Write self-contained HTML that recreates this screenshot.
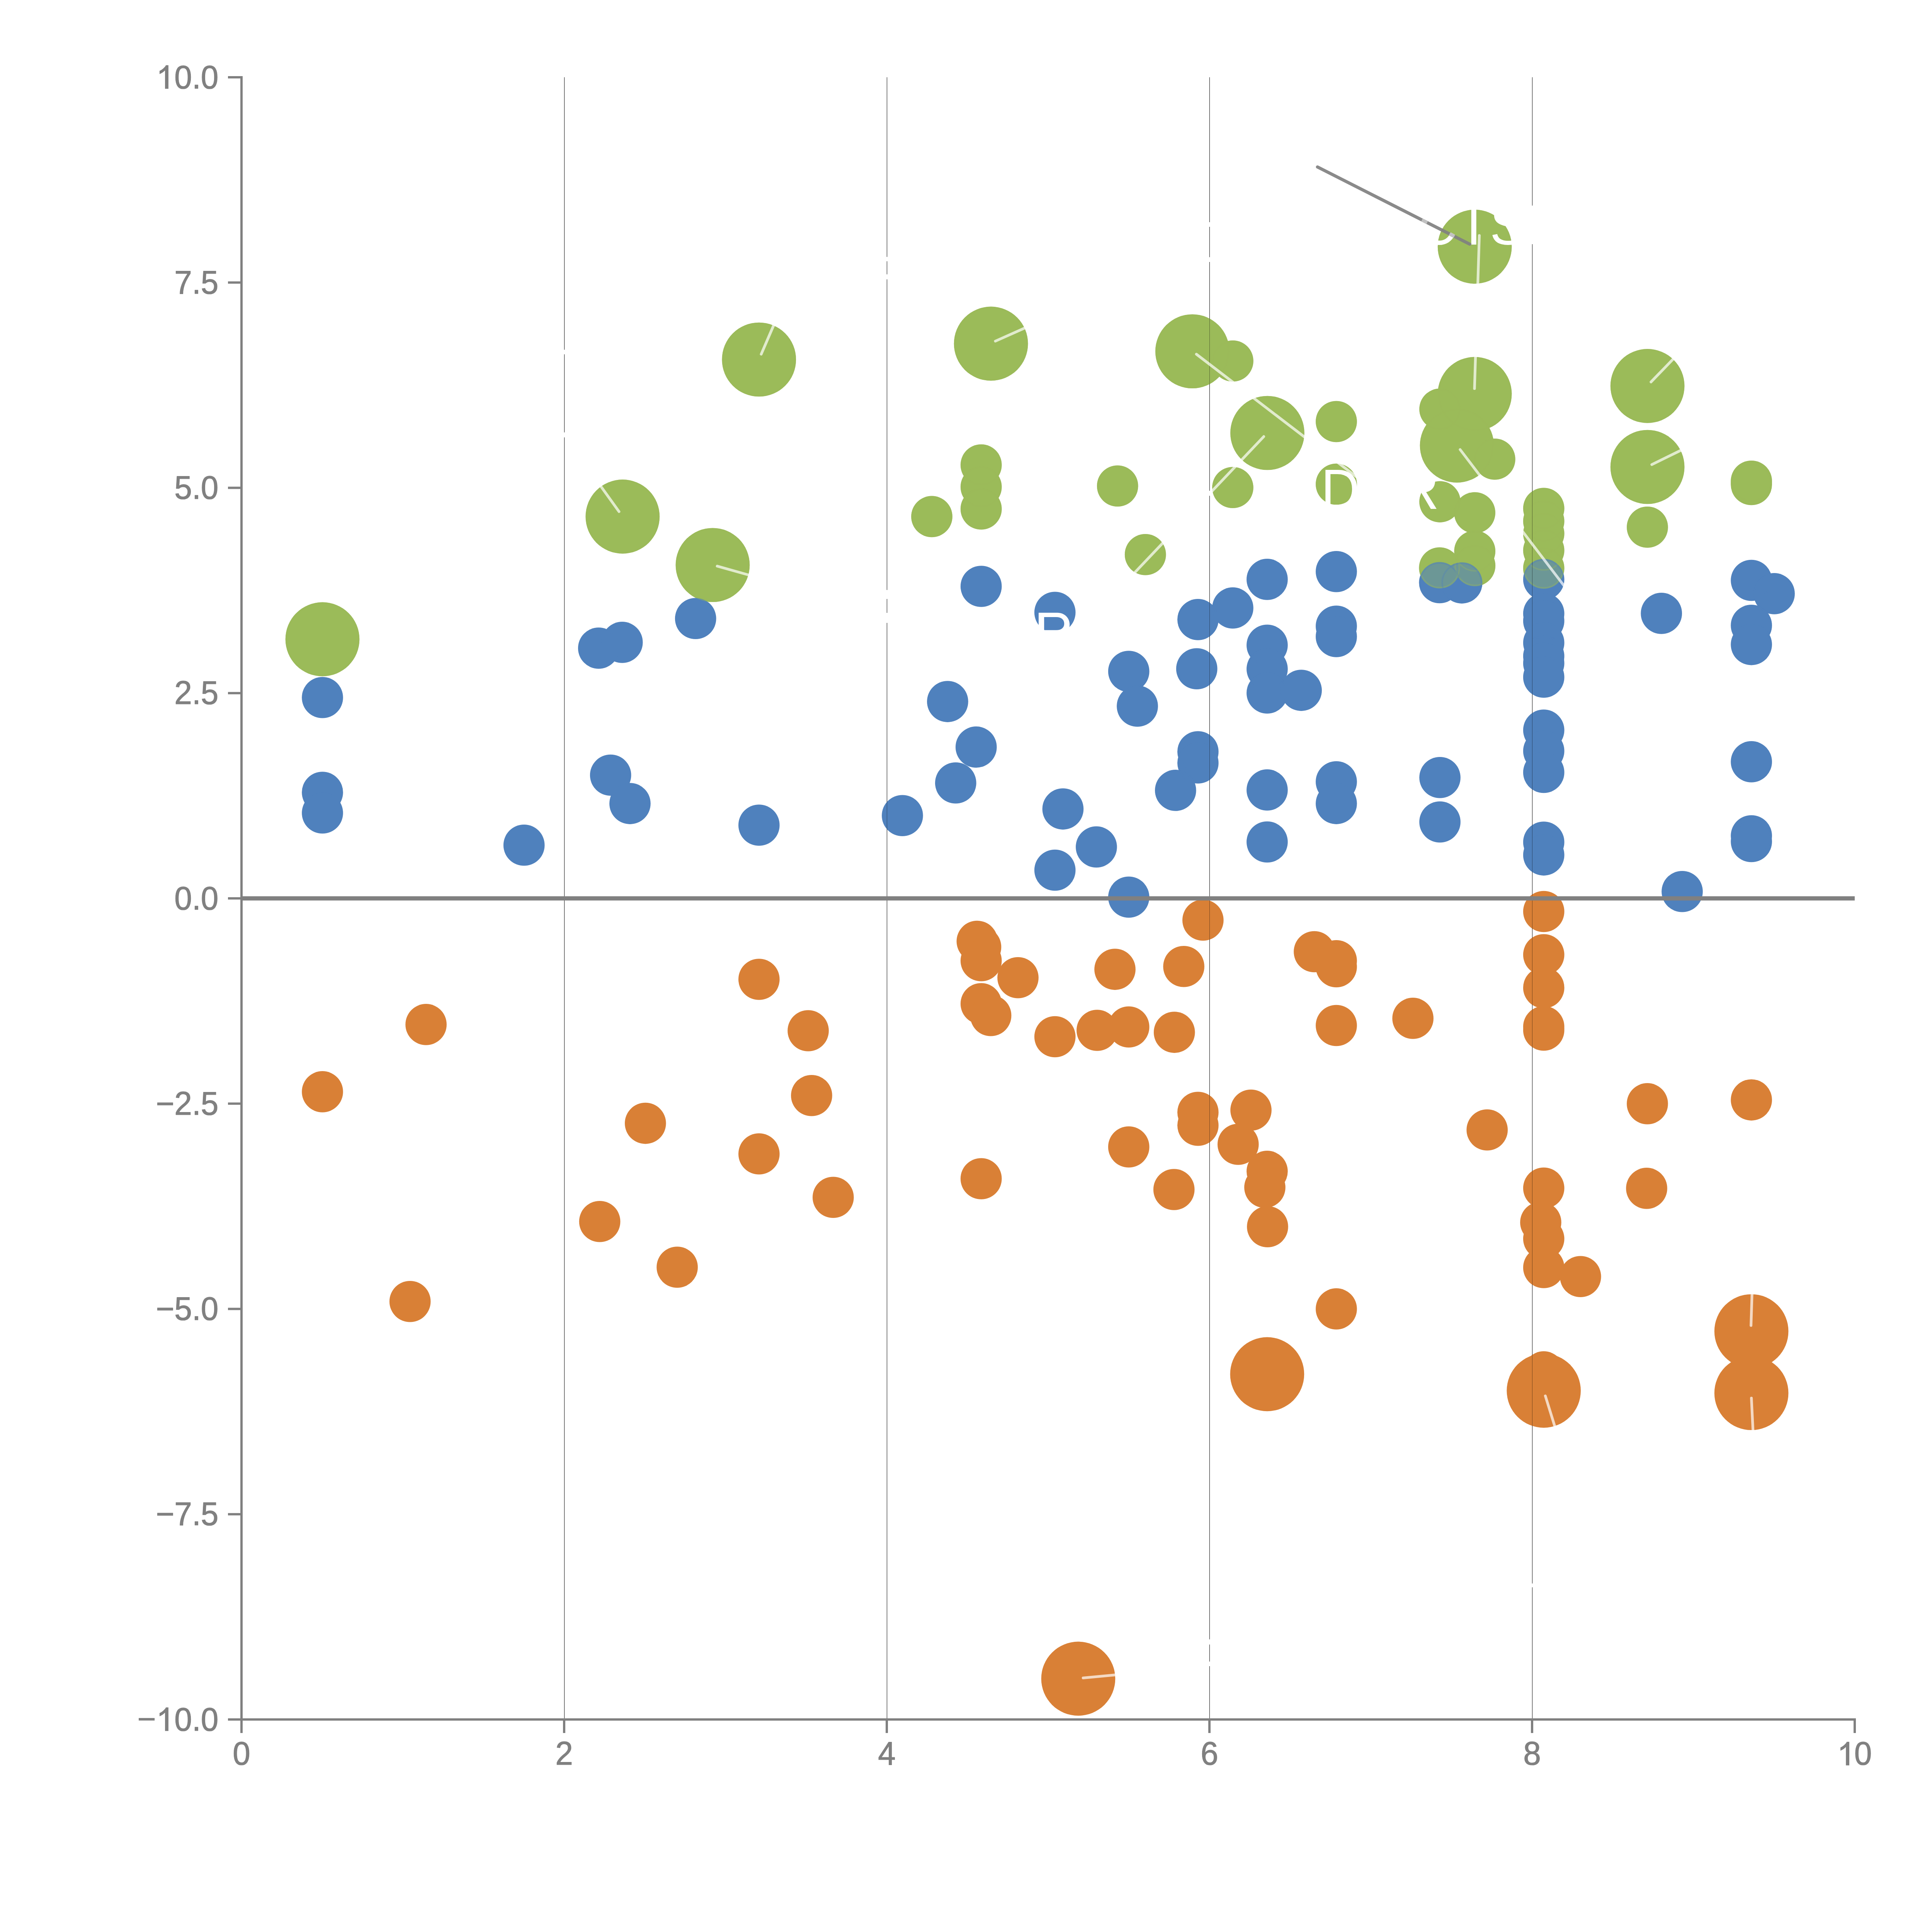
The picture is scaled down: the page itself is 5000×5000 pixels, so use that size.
<!DOCTYPE html><html><head><meta charset="utf-8"><style>html,body{margin:0;padding:0;background:#fff}svg{display:block}text{font-family:"Liberation Sans",sans-serif;font-size:82px;fill:#808080}.tk{stroke:#808080;stroke-width:1.2px;stroke-linejoin:round}</style></head><body>
<svg width="5000" height="5000" viewBox="0 0 5000 5000">
<rect width="5000" height="5000" fill="#ffffff"/>
<rect x="1460" y="200" width="1" height="4250" fill="#000"/>
<rect x="2295" y="200" width="1" height="4250" fill="#000"/>
<rect x="3130" y="200" width="1" height="4250" fill="#000"/>
<rect x="3965" y="200" width="1" height="4250" fill="#000"/>
<g><circle cx="834.5" cy="1654.4" r="95.8" fill="#9bbb59"/><circle cx="1611.3" cy="1336.9" r="95.8" fill="#9bbb59"/><circle cx="1844.4" cy="1462.3" r="95.8" fill="#9bbb59"/><circle cx="1964.3" cy="930.5" r="95.8" fill="#9bbb59"/><circle cx="2564.6" cy="889.4" r="95.8" fill="#9bbb59"/><circle cx="3085.8" cy="909.3" r="95.8" fill="#9bbb59"/><circle cx="3279.9" cy="1120.5" r="95.8" fill="#9bbb59"/><circle cx="3816.6" cy="638.4" r="95.8" fill="#9bbb59"/><circle cx="3816.6" cy="1019.6" r="95.8" fill="#9bbb59"/><circle cx="3770.5" cy="1153.1" r="95.8" fill="#9bbb59"/><circle cx="4263.6" cy="998.9" r="95.8" fill="#9bbb59"/><circle cx="4263.6" cy="1208.5" r="95.8" fill="#9bbb59"/><circle cx="2411.5" cy="1336.9" r="53.3" fill="#9bbb59"/><circle cx="2539.2" cy="1203.3" r="53.3" fill="#9bbb59"/><circle cx="2539.2" cy="1260.2" r="53.3" fill="#9bbb59"/><circle cx="2539.2" cy="1317.2" r="53.3" fill="#9bbb59"/><circle cx="2892.2" cy="1257.7" r="53.3" fill="#9bbb59"/><circle cx="2964.2" cy="1435.2" r="53.3" fill="#9bbb59"/><circle cx="3190.4" cy="934.2" r="53.3" fill="#9bbb59"/><circle cx="3190.4" cy="1261.8" r="53.3" fill="#9bbb59"/><circle cx="3458.4" cy="1091.0" r="53.3" fill="#9bbb59"/><circle cx="3458.4" cy="1253.0" r="53.3" fill="#9bbb59"/><circle cx="3726.5" cy="1058.9" r="53.3" fill="#9bbb59"/><circle cx="3868.3" cy="1188.3" r="53.3" fill="#9bbb59"/><circle cx="3726.5" cy="1298.6" r="53.3" fill="#9bbb59"/><circle cx="3816.6" cy="1327.0" r="53.3" fill="#9bbb59"/><circle cx="3816.7" cy="1426.5" r="53.3" fill="#9bbb59"/><circle cx="3816.8" cy="1463.9" r="53.3" fill="#9bbb59"/><circle cx="3725.7" cy="1469.7" r="53.3" fill="#9bbb59"/><circle cx="3995.2" cy="1315.8" r="53.3" fill="#9bbb59"/><circle cx="3995.2" cy="1348.7" r="53.3" fill="#9bbb59"/><circle cx="3995.2" cy="1381.0" r="53.3" fill="#9bbb59"/><circle cx="3995.2" cy="1424.3" r="53.3" fill="#9bbb59"/><circle cx="3995.2" cy="1470.5" r="53.3" fill="#9bbb59"/><circle cx="4263.4" cy="1364.3" r="53.3" fill="#9bbb59"/><circle cx="4532.6" cy="1245.2" r="53.3" fill="#9bbb59"/><circle cx="4532.6" cy="1254.0" r="53.3" fill="#9bbb59"/></g>
<g><circle cx="834.5" cy="1805.3" r="53.3" fill="#4f81bd"/><circle cx="834.5" cy="2050.6" r="53.3" fill="#4f81bd"/><circle cx="834.5" cy="2104.0" r="53.3" fill="#4f81bd"/><circle cx="1356.2" cy="2187.3" r="53.3" fill="#4f81bd"/><circle cx="1549.3" cy="1677.4" r="53.3" fill="#4f81bd"/><circle cx="1610.2" cy="1662.4" r="53.3" fill="#4f81bd"/><circle cx="1580.2" cy="2006.1" r="53.3" fill="#4f81bd"/><circle cx="1630.4" cy="2079.6" r="53.3" fill="#4f81bd"/><circle cx="1800.2" cy="1600.8" r="53.3" fill="#4f81bd"/><circle cx="1964.3" cy="2135.5" r="53.3" fill="#4f81bd"/><circle cx="2335.4" cy="2110.7" r="53.3" fill="#4f81bd"/><circle cx="2452.4" cy="1815.6" r="53.3" fill="#4f81bd"/><circle cx="2473.3" cy="2026.3" r="53.3" fill="#4f81bd"/><circle cx="2526.3" cy="1933.4" r="53.3" fill="#4f81bd"/><circle cx="2539.2" cy="1517.5" r="53.3" fill="#4f81bd"/><circle cx="2730.2" cy="1584.8" r="53.3" fill="#4f81bd"/><circle cx="2750.9" cy="2093.6" r="53.3" fill="#4f81bd"/><circle cx="2837.4" cy="2191.9" r="53.3" fill="#4f81bd"/><circle cx="2730.2" cy="2252.0" r="53.3" fill="#4f81bd"/><circle cx="2921.2" cy="2321.8" r="53.3" fill="#4f81bd"/><circle cx="2921.2" cy="1737.5" r="53.3" fill="#4f81bd"/><circle cx="2943.5" cy="1827.5" r="53.3" fill="#4f81bd"/><circle cx="3100.3" cy="1603.4" r="53.3" fill="#4f81bd"/><circle cx="3190.4" cy="1573.4" r="53.3" fill="#4f81bd"/><circle cx="3097.2" cy="1730.7" r="53.3" fill="#4f81bd"/><circle cx="3100.3" cy="1945.5" r="53.3" fill="#4f81bd"/><circle cx="3100.3" cy="1974.5" r="53.3" fill="#4f81bd"/><circle cx="3042.3" cy="2045.4" r="53.3" fill="#4f81bd"/><circle cx="3279.4" cy="1499.4" r="53.3" fill="#4f81bd"/><circle cx="3279.4" cy="1669.7" r="53.3" fill="#4f81bd"/><circle cx="3279.4" cy="1731.3" r="53.3" fill="#4f81bd"/><circle cx="3279.4" cy="1793.4" r="53.3" fill="#4f81bd"/><circle cx="3367.6" cy="1786.6" r="53.3" fill="#4f81bd"/><circle cx="3279.4" cy="2044.4" r="53.3" fill="#4f81bd"/><circle cx="3279.4" cy="2179.0" r="53.3" fill="#4f81bd"/><circle cx="3458.4" cy="1479.2" r="53.3" fill="#4f81bd"/><circle cx="3458.4" cy="1620.5" r="53.3" fill="#4f81bd"/><circle cx="3458.4" cy="1647.4" r="53.3" fill="#4f81bd"/><circle cx="3458.4" cy="2023.2" r="53.3" fill="#4f81bd"/><circle cx="3458.4" cy="2079.6" r="53.3" fill="#4f81bd"/><circle cx="3725.7" cy="1507.9" r="53.3" fill="#4f81bd"/><circle cx="3783.2" cy="1508.6" r="53.3" fill="#4f81bd"/><circle cx="3726.5" cy="2012.3" r="53.3" fill="#4f81bd"/><circle cx="3726.5" cy="2127.2" r="53.3" fill="#4f81bd"/><circle cx="3995.2" cy="1499.6" r="53.3" fill="#4f81bd"/><circle cx="3995.2" cy="1588.0" r="53.3" fill="#4f81bd"/><circle cx="3995.2" cy="1607.0" r="53.3" fill="#4f81bd"/><circle cx="3995.2" cy="1663.5" r="53.3" fill="#4f81bd"/><circle cx="3995.2" cy="1698.0" r="53.3" fill="#4f81bd"/><circle cx="3995.2" cy="1716.5" r="53.3" fill="#4f81bd"/><circle cx="3995.2" cy="1752.4" r="53.3" fill="#4f81bd"/><circle cx="3995.2" cy="1889.6" r="53.3" fill="#4f81bd"/><circle cx="3995.2" cy="1943.5" r="53.3" fill="#4f81bd"/><circle cx="3995.2" cy="1998.9" r="53.3" fill="#4f81bd"/><circle cx="3995.2" cy="2179.5" r="53.3" fill="#4f81bd"/><circle cx="3995.2" cy="2212.6" r="53.3" fill="#4f81bd"/><circle cx="4299.7" cy="1587.4" r="53.3" fill="#4f81bd"/><circle cx="4532.6" cy="1502.0" r="53.3" fill="#4f81bd"/><circle cx="4591.6" cy="1536.4" r="53.3" fill="#4f81bd"/><circle cx="4532.6" cy="1618.4" r="53.3" fill="#4f81bd"/><circle cx="4532.6" cy="1668.1" r="53.3" fill="#4f81bd"/><circle cx="4532.6" cy="1971.4" r="53.3" fill="#4f81bd"/><circle cx="4532.6" cy="2163.0" r="53.3" fill="#4f81bd"/><circle cx="4532.6" cy="2178.0" r="53.3" fill="#4f81bd"/><circle cx="4353.5" cy="2307.3" r="53.3" fill="#4f81bd"/></g>
<g><circle cx="1102.6" cy="2651.4" r="53.3" fill="#d98036"/><circle cx="834.5" cy="2825.4" r="53.3" fill="#d98036"/><circle cx="1552.1" cy="3161.3" r="53.3" fill="#d98036"/><circle cx="1061.2" cy="3368.2" r="53.3" fill="#d98036"/><circle cx="1964.3" cy="2534.5" r="53.3" fill="#d98036"/><circle cx="2091.6" cy="2667.5" r="53.3" fill="#d98036"/><circle cx="2100.4" cy="2835.2" r="53.3" fill="#d98036"/><circle cx="1670.3" cy="2907.1" r="53.3" fill="#d98036"/><circle cx="1964.3" cy="2986.3" r="53.3" fill="#d98036"/><circle cx="2156.3" cy="3098.7" r="53.3" fill="#d98036"/><circle cx="1752.6" cy="3279.5" r="53.3" fill="#d98036"/><circle cx="2528.9" cy="2436.1" r="53.3" fill="#d98036"/><circle cx="2538.0" cy="2451.0" r="53.3" fill="#d98036"/><circle cx="2539.2" cy="2486.3" r="53.3" fill="#d98036"/><circle cx="2634.5" cy="2530.3" r="53.3" fill="#d98036"/><circle cx="2539.2" cy="2597.6" r="53.3" fill="#d98036"/><circle cx="2564.1" cy="2628.2" r="53.3" fill="#d98036"/><circle cx="2885.5" cy="2508.6" r="53.3" fill="#d98036"/><circle cx="3063.6" cy="2501.3" r="53.3" fill="#d98036"/><circle cx="3113.3" cy="2381.3" r="53.3" fill="#d98036"/><circle cx="2730.2" cy="2683.0" r="53.3" fill="#d98036"/><circle cx="2839.4" cy="2666.5" r="53.3" fill="#d98036"/><circle cx="2921.2" cy="2657.7" r="53.3" fill="#d98036"/><circle cx="3039.2" cy="2671.6" r="53.3" fill="#d98036"/><circle cx="3100.3" cy="2878.7" r="53.3" fill="#d98036"/><circle cx="3100.3" cy="2912.3" r="53.3" fill="#d98036"/><circle cx="3237.5" cy="2873.0" r="53.3" fill="#d98036"/><circle cx="3204.3" cy="2961.5" r="53.3" fill="#d98036"/><circle cx="3279.4" cy="3031.4" r="53.3" fill="#d98036"/><circle cx="3273.4" cy="3072.8" r="53.3" fill="#d98036"/><circle cx="3280.4" cy="3174.7" r="53.3" fill="#d98036"/><circle cx="2921.2" cy="2968.2" r="53.3" fill="#d98036"/><circle cx="3038.2" cy="3078.5" r="53.3" fill="#d98036"/><circle cx="2539.2" cy="3050.5" r="53.3" fill="#d98036"/><circle cx="3401.5" cy="2463.0" r="53.3" fill="#d98036"/><circle cx="3458.4" cy="2486.3" r="53.3" fill="#d98036"/><circle cx="3458.4" cy="2501.9" r="53.3" fill="#d98036"/><circle cx="3458.4" cy="2654.0" r="53.3" fill="#d98036"/><circle cx="3656.6" cy="2635.4" r="53.3" fill="#d98036"/><circle cx="3995.2" cy="2359.0" r="53.3" fill="#d98036"/><circle cx="3995.2" cy="2470.8" r="53.3" fill="#d98036"/><circle cx="3995.2" cy="2556.2" r="53.3" fill="#d98036"/><circle cx="3995.2" cy="2657.1" r="53.3" fill="#d98036"/><circle cx="3995.2" cy="2665.9" r="53.3" fill="#d98036"/><circle cx="3995.2" cy="3074.8" r="53.3" fill="#d98036"/><circle cx="3987.4" cy="3163.4" r="53.3" fill="#d98036"/><circle cx="3995.2" cy="3205.8" r="53.3" fill="#d98036"/><circle cx="3995.2" cy="3280.5" r="53.3" fill="#d98036"/><circle cx="4090.3" cy="3303.8" r="53.3" fill="#d98036"/><circle cx="3848.7" cy="2924.2" r="53.3" fill="#d98036"/><circle cx="4263.4" cy="2856.4" r="53.3" fill="#d98036"/><circle cx="4261.5" cy="3075.4" r="53.3" fill="#d98036"/><circle cx="4532.6" cy="2846.6" r="53.3" fill="#d98036"/><circle cx="3458.4" cy="3387.4" r="53.3" fill="#d98036"/><circle cx="3995.2" cy="3550.4" r="53.3" fill="#d98036"/><circle cx="3279.4" cy="3556.4" r="95.8" fill="#d98036"/><circle cx="3995.2" cy="3599.1" r="95.8" fill="#d98036"/><circle cx="4532.6" cy="3445.3" r="95.8" fill="#d98036"/><circle cx="4532.6" cy="3605.3" r="95.8" fill="#d98036"/><circle cx="2790.5" cy="4344.4" r="95.8" fill="#d98036"/></g>
<g opacity="0.38"><circle cx="834.5" cy="1654.4" r="95.8" fill="#9bbb59"/><circle cx="1611.3" cy="1336.9" r="95.8" fill="#9bbb59"/><circle cx="1844.4" cy="1462.3" r="95.8" fill="#9bbb59"/><circle cx="1964.3" cy="930.5" r="95.8" fill="#9bbb59"/><circle cx="2564.6" cy="889.4" r="95.8" fill="#9bbb59"/><circle cx="3085.8" cy="909.3" r="95.8" fill="#9bbb59"/><circle cx="3279.9" cy="1120.5" r="95.8" fill="#9bbb59"/><circle cx="3816.6" cy="638.4" r="95.8" fill="#9bbb59"/><circle cx="3816.6" cy="1019.6" r="95.8" fill="#9bbb59"/><circle cx="3770.5" cy="1153.1" r="95.8" fill="#9bbb59"/><circle cx="4263.6" cy="998.9" r="95.8" fill="#9bbb59"/><circle cx="4263.6" cy="1208.5" r="95.8" fill="#9bbb59"/><circle cx="2411.5" cy="1336.9" r="53.3" fill="#9bbb59"/><circle cx="2539.2" cy="1203.3" r="53.3" fill="#9bbb59"/><circle cx="2539.2" cy="1260.2" r="53.3" fill="#9bbb59"/><circle cx="2539.2" cy="1317.2" r="53.3" fill="#9bbb59"/><circle cx="2892.2" cy="1257.7" r="53.3" fill="#9bbb59"/><circle cx="2964.2" cy="1435.2" r="53.3" fill="#9bbb59"/><circle cx="3190.4" cy="934.2" r="53.3" fill="#9bbb59"/><circle cx="3190.4" cy="1261.8" r="53.3" fill="#9bbb59"/><circle cx="3458.4" cy="1091.0" r="53.3" fill="#9bbb59"/><circle cx="3458.4" cy="1253.0" r="53.3" fill="#9bbb59"/><circle cx="3726.5" cy="1058.9" r="53.3" fill="#9bbb59"/><circle cx="3868.3" cy="1188.3" r="53.3" fill="#9bbb59"/><circle cx="3726.5" cy="1298.6" r="53.3" fill="#9bbb59"/><circle cx="3816.6" cy="1327.0" r="53.3" fill="#9bbb59"/><circle cx="3816.7" cy="1426.5" r="53.3" fill="#9bbb59"/><circle cx="3816.8" cy="1463.9" r="53.3" fill="#9bbb59"/><circle cx="3725.7" cy="1469.7" r="53.3" fill="#9bbb59"/><circle cx="3995.2" cy="1315.8" r="53.3" fill="#9bbb59"/><circle cx="3995.2" cy="1348.7" r="53.3" fill="#9bbb59"/><circle cx="3995.2" cy="1381.0" r="53.3" fill="#9bbb59"/><circle cx="3995.2" cy="1424.3" r="53.3" fill="#9bbb59"/><circle cx="3995.2" cy="1470.5" r="53.3" fill="#9bbb59"/><circle cx="4263.4" cy="1364.3" r="53.3" fill="#9bbb59"/><circle cx="4532.6" cy="1245.2" r="53.3" fill="#9bbb59"/><circle cx="4532.6" cy="1254.0" r="53.3" fill="#9bbb59"/></g>
<g fill="none" stroke="#9bbb59" stroke-width="4" stroke-opacity="0.3"><circle cx="834.5" cy="1654.4" r="93.3" fill="none"/><circle cx="1611.3" cy="1336.9" r="93.3" fill="none"/><circle cx="1844.4" cy="1462.3" r="93.3" fill="none"/><circle cx="1964.3" cy="930.5" r="93.3" fill="none"/><circle cx="2564.6" cy="889.4" r="93.3" fill="none"/><circle cx="3085.8" cy="909.3" r="93.3" fill="none"/><circle cx="3279.9" cy="1120.5" r="93.3" fill="none"/><circle cx="3816.6" cy="638.4" r="93.3" fill="none"/><circle cx="3816.6" cy="1019.6" r="93.3" fill="none"/><circle cx="3770.5" cy="1153.1" r="93.3" fill="none"/><circle cx="4263.6" cy="998.9" r="93.3" fill="none"/><circle cx="4263.6" cy="1208.5" r="93.3" fill="none"/><circle cx="2411.5" cy="1336.9" r="50.8" fill="none"/><circle cx="2539.2" cy="1203.3" r="50.8" fill="none"/><circle cx="2539.2" cy="1260.2" r="50.8" fill="none"/><circle cx="2539.2" cy="1317.2" r="50.8" fill="none"/><circle cx="2892.2" cy="1257.7" r="50.8" fill="none"/><circle cx="2964.2" cy="1435.2" r="50.8" fill="none"/><circle cx="3190.4" cy="934.2" r="50.8" fill="none"/><circle cx="3190.4" cy="1261.8" r="50.8" fill="none"/><circle cx="3458.4" cy="1091.0" r="50.8" fill="none"/><circle cx="3458.4" cy="1253.0" r="50.8" fill="none"/><circle cx="3726.5" cy="1058.9" r="50.8" fill="none"/><circle cx="3868.3" cy="1188.3" r="50.8" fill="none"/><circle cx="3726.5" cy="1298.6" r="50.8" fill="none"/><circle cx="3816.6" cy="1327.0" r="50.8" fill="none"/><circle cx="3816.7" cy="1426.5" r="50.8" fill="none"/><circle cx="3816.8" cy="1463.9" r="50.8" fill="none"/><circle cx="3725.7" cy="1469.7" r="50.8" fill="none"/><circle cx="3995.2" cy="1315.8" r="50.8" fill="none"/><circle cx="3995.2" cy="1348.7" r="50.8" fill="none"/><circle cx="3995.2" cy="1381.0" r="50.8" fill="none"/><circle cx="3995.2" cy="1424.3" r="50.8" fill="none"/><circle cx="3995.2" cy="1470.5" r="50.8" fill="none"/><circle cx="4263.4" cy="1364.3" r="50.8" fill="none"/><circle cx="4532.6" cy="1245.2" r="50.8" fill="none"/><circle cx="4532.6" cy="1254.0" r="50.8" fill="none"/></g>
<g fill="none" stroke="#4f81bd" stroke-width="4" stroke-opacity="0.35"><circle cx="834.5" cy="1805.3" r="50.8" fill="none"/><circle cx="834.5" cy="2050.6" r="50.8" fill="none"/><circle cx="834.5" cy="2104.0" r="50.8" fill="none"/><circle cx="1356.2" cy="2187.3" r="50.8" fill="none"/><circle cx="1549.3" cy="1677.4" r="50.8" fill="none"/><circle cx="1610.2" cy="1662.4" r="50.8" fill="none"/><circle cx="1580.2" cy="2006.1" r="50.8" fill="none"/><circle cx="1630.4" cy="2079.6" r="50.8" fill="none"/><circle cx="1800.2" cy="1600.8" r="50.8" fill="none"/><circle cx="1964.3" cy="2135.5" r="50.8" fill="none"/><circle cx="2335.4" cy="2110.7" r="50.8" fill="none"/><circle cx="2452.4" cy="1815.6" r="50.8" fill="none"/><circle cx="2473.3" cy="2026.3" r="50.8" fill="none"/><circle cx="2526.3" cy="1933.4" r="50.8" fill="none"/><circle cx="2539.2" cy="1517.5" r="50.8" fill="none"/><circle cx="2730.2" cy="1584.8" r="50.8" fill="none"/><circle cx="2750.9" cy="2093.6" r="50.8" fill="none"/><circle cx="2837.4" cy="2191.9" r="50.8" fill="none"/><circle cx="2730.2" cy="2252.0" r="50.8" fill="none"/><circle cx="2921.2" cy="2321.8" r="50.8" fill="none"/><circle cx="2921.2" cy="1737.5" r="50.8" fill="none"/><circle cx="2943.5" cy="1827.5" r="50.8" fill="none"/><circle cx="3100.3" cy="1603.4" r="50.8" fill="none"/><circle cx="3190.4" cy="1573.4" r="50.8" fill="none"/><circle cx="3097.2" cy="1730.7" r="50.8" fill="none"/><circle cx="3100.3" cy="1945.5" r="50.8" fill="none"/><circle cx="3100.3" cy="1974.5" r="50.8" fill="none"/><circle cx="3042.3" cy="2045.4" r="50.8" fill="none"/><circle cx="3279.4" cy="1499.4" r="50.8" fill="none"/><circle cx="3279.4" cy="1669.7" r="50.8" fill="none"/><circle cx="3279.4" cy="1731.3" r="50.8" fill="none"/><circle cx="3279.4" cy="1793.4" r="50.8" fill="none"/><circle cx="3367.6" cy="1786.6" r="50.8" fill="none"/><circle cx="3279.4" cy="2044.4" r="50.8" fill="none"/><circle cx="3279.4" cy="2179.0" r="50.8" fill="none"/><circle cx="3458.4" cy="1479.2" r="50.8" fill="none"/><circle cx="3458.4" cy="1620.5" r="50.8" fill="none"/><circle cx="3458.4" cy="1647.4" r="50.8" fill="none"/><circle cx="3458.4" cy="2023.2" r="50.8" fill="none"/><circle cx="3458.4" cy="2079.6" r="50.8" fill="none"/><circle cx="3725.7" cy="1507.9" r="50.8" fill="none"/><circle cx="3783.2" cy="1508.6" r="50.8" fill="none"/><circle cx="3726.5" cy="2012.3" r="50.8" fill="none"/><circle cx="3726.5" cy="2127.2" r="50.8" fill="none"/><circle cx="3995.2" cy="1499.6" r="50.8" fill="none"/><circle cx="3995.2" cy="1588.0" r="50.8" fill="none"/><circle cx="3995.2" cy="1607.0" r="50.8" fill="none"/><circle cx="3995.2" cy="1663.5" r="50.8" fill="none"/><circle cx="3995.2" cy="1698.0" r="50.8" fill="none"/><circle cx="3995.2" cy="1716.5" r="50.8" fill="none"/><circle cx="3995.2" cy="1752.4" r="50.8" fill="none"/><circle cx="3995.2" cy="1889.6" r="50.8" fill="none"/><circle cx="3995.2" cy="1943.5" r="50.8" fill="none"/><circle cx="3995.2" cy="1998.9" r="50.8" fill="none"/><circle cx="3995.2" cy="2179.5" r="50.8" fill="none"/><circle cx="3995.2" cy="2212.6" r="50.8" fill="none"/><circle cx="4299.7" cy="1587.4" r="50.8" fill="none"/><circle cx="4532.6" cy="1502.0" r="50.8" fill="none"/><circle cx="4591.6" cy="1536.4" r="50.8" fill="none"/><circle cx="4532.6" cy="1618.4" r="50.8" fill="none"/><circle cx="4532.6" cy="1668.1" r="50.8" fill="none"/><circle cx="4532.6" cy="1971.4" r="50.8" fill="none"/><circle cx="4532.6" cy="2163.0" r="50.8" fill="none"/><circle cx="4532.6" cy="2178.0" r="50.8" fill="none"/><circle cx="4353.5" cy="2307.3" r="50.8" fill="none"/></g>
<rect x="1460" y="200" width="1" height="4250" fill="#000" fill-opacity="0.45"/>
<rect x="2295" y="200" width="1" height="4250" fill="#000" fill-opacity="0.45"/>
<rect x="3130" y="200" width="1" height="4250" fill="#000" fill-opacity="0.45"/>
<rect x="3965" y="200" width="1" height="4250" fill="#000" fill-opacity="0.45"/>
<rect x="625" y="2319.5" width="4175" height="11" fill="#808080"/>
<rect x="622" y="197" width="6" height="4256" fill="#808080"/>
<rect x="622" y="4447" width="4181" height="6" fill="#808080"/>
<rect x="622.0" y="4450" width="6" height="35" fill="#808080"/>
<text transform="translate(625.0,4567.3) scale(1,1.03)" class="tk" text-anchor="middle">0</text>
<rect x="1457.0" y="4450" width="6" height="35" fill="#808080"/>
<text transform="translate(1460.0,4567.3) scale(1,1.03)" class="tk" text-anchor="middle">2</text>
<rect x="2292.0" y="4450" width="6" height="35" fill="#808080"/>
<text transform="translate(2295.0,4567.3) scale(1,1.03)" class="tk" text-anchor="middle">4</text>
<rect x="3127.0" y="4450" width="6" height="35" fill="#808080"/>
<text transform="translate(3130.0,4567.3) scale(1,1.03)" class="tk" text-anchor="middle">6</text>
<rect x="3962.0" y="4450" width="6" height="35" fill="#808080"/>
<text transform="translate(3965.0,4567.3) scale(1,1.03)" class="tk" text-anchor="middle">8</text>
<rect x="4797.0" y="4450" width="6" height="35" fill="#808080"/>
<path fill="#808080" transform="translate(4786.0,4507.8)" d="M0,0 L-6.5,0 C-9,5 -15,11 -23,14.6 L-23,23 C-17,20.5 -12,17 -8.8,13.5 L-8.8,61 L0,61 Z"/>
<text transform="translate(4844.3,4567.3) scale(1,1.03)" class="tk" text-anchor="end">0</text>
<rect x="590" y="197.0" width="35" height="6" fill="#808080"/>
<path fill="#808080" transform="translate(435.9,168.7)" d="M0,0 L-6.5,0 C-9,5 -15,11 -23,14.6 L-23,23 C-17,20.5 -12,17 -8.8,13.5 L-8.8,61 L0,61 Z"/>
<text transform="translate(565.3,228.6) scale(1,1.03)" class="tk" text-anchor="end">0.0</text>
<rect x="590" y="728.2" width="35" height="6" fill="#808080"/>
<text transform="translate(565.3,759.9) scale(1,1.03)" class="tk" text-anchor="end">7.5</text>
<rect x="590" y="1259.5" width="35" height="6" fill="#808080"/>
<text transform="translate(565.3,1291.1) scale(1,1.03)" class="tk" text-anchor="end">5.0</text>
<rect x="590" y="1790.8" width="35" height="6" fill="#808080"/>
<text transform="translate(565.3,1822.3) scale(1,1.03)" class="tk" text-anchor="end">2.5</text>
<rect x="590" y="2322.0" width="35" height="6" fill="#808080"/>
<text transform="translate(565.3,2353.6) scale(1,1.03)" class="tk" text-anchor="end">0.0</text>
<rect x="590" y="2853.2" width="35" height="6" fill="#808080"/>
<text transform="translate(565.3,2884.8) scale(1,1.03)" class="tk" text-anchor="end">−2.5</text>
<rect x="590" y="3384.5" width="35" height="6" fill="#808080"/>
<text transform="translate(565.3,3416.1) scale(1,1.03)" class="tk" text-anchor="end">−5.0</text>
<rect x="590" y="3915.8" width="35" height="6" fill="#808080"/>
<text transform="translate(565.3,3947.3) scale(1,1.03)" class="tk" text-anchor="end">−7.5</text>
<rect x="590" y="4447.0" width="35" height="6" fill="#808080"/>
<path fill="#808080" transform="translate(435.9,4418.7)" d="M0,0 L-6.5,0 C-9,5 -15,11 -23,14.6 L-23,23 C-17,20.5 -12,17 -8.8,13.5 L-8.8,61 L0,61 Z"/>
<rect x="359" y="4446.2" width="41.2" height="6.5" fill="#808080"/>
<text transform="translate(565.3,4478.6) scale(1,1.03)" class="tk" text-anchor="end">0.0</text>
<path fill="#fff" fill-rule="evenodd" d="M2688,1585.7 L2736.6,1585.7 C2756,1586 2768.2,1600 2768.2,1616 C2768.2,1624 2766,1630 2762,1635 C2756,1640 2745,1642.2 2733.5,1642.2 L2702.2,1642.2 L2702.2,1686 L2688,1686 Z M2702.2,1597.1 L2733.5,1597.1 C2747,1597.1 2754.2,1604 2754.2,1613.9 C2754.2,1624 2747,1630.8 2733.5,1630.8 L2702.2,1630.8 Z"/><path fill="#fff" d="M3680,1270 L3688,1254 L3702,1244 L3713,1247 L3708,1260 L3696,1268 Z"/><text transform="translate(3419.1,1316.7) scale(1,1.062)" style="font-size:138px;fill:#fff">D</text><text transform="translate(3624.4,1316.7) scale(1,1.062)" style="font-size:138px;fill:#fff">R</text><text transform="translate(3670.7,632.5) scale(1,1.062)" style="font-size:138px;fill:#fff">C</text><text transform="translate(3794.9,632.5) scale(1,1.062)" style="font-size:138px;fill:#fff">I</text><text transform="translate(3855.9,632.5) scale(1,1.062)" style="font-size:138px;fill:#fff">S</text><rect x="1457" y="905" width="7" height="12.0" fill="#fff"/><rect x="1457" y="1119" width="7" height="13.0" fill="#fff"/><rect x="2292" y="664.8" width="7" height="11.4" fill="#fff"/><rect x="2292" y="710" width="7" height="13.0" fill="#fff"/><rect x="2292" y="1526.8" width="7" height="23.3" fill="#fff"/><rect x="2292" y="1586" width="7" height="26.0" fill="#fff"/><rect x="3127" y="575" width="7" height="12.0" fill="#fff"/><rect x="3127" y="665.5" width="7" height="12.5" fill="#fff"/><rect x="3127" y="4242.6" width="7" height="13.5" fill="#fff"/><rect x="3962" y="532" width="7" height="100.0" fill="#fff"/><rect x="3962" y="4098" width="7" height="10.0" fill="#fff"/><rect x="3127" y="4300" width="7" height="12.0" fill="#fff"/><rect x="3127" y="1270" width="7" height="13.0" fill="#fff"/>
<line x1="3409.7" y1="432.1" x2="3803.6" y2="631.9" stroke="#808080" stroke-opacity="0.92" stroke-width="8.3" stroke-linecap="round"/>
<line x1="3680" y1="569.2" x2="3693.5" y2="576" stroke="#c2c2c2" stroke-width="8.3"/>
<line x1="3751.4" y1="605.4" x2="3763.9" y2="611.8" stroke="#c2c2c2" stroke-width="8.3"/>
<line x1="1856.1" y1="1465.2" x2="1937.4" y2="1488" stroke="#fff" stroke-opacity="0.7" stroke-width="7" stroke-linecap="round"/>
<line x1="1970" y1="916.6" x2="2002" y2="842.5" stroke="#fff" stroke-opacity="0.7" stroke-width="7" stroke-linecap="round"/>
<line x1="1602" y1="1324" x2="1556" y2="1260" stroke="#fff" stroke-opacity="0.7" stroke-width="7" stroke-linecap="round"/>
<line x1="2576" y1="882.9" x2="2653.6" y2="848.2" stroke="#fff" stroke-opacity="0.7" stroke-width="7" stroke-linecap="round"/>
<line x1="3096.2" y1="916.6" x2="3509.6" y2="1233.3" stroke="#fff" stroke-opacity="0.7" stroke-width="7" stroke-linecap="round"/>
<line x1="3270.6" y1="1129.8" x2="2938.3" y2="1480.2" stroke="#fff" stroke-opacity="0.7" stroke-width="7" stroke-linecap="round"/>
<line x1="3828.5" y1="609.6" x2="3816.0" y2="1005.6" stroke="#fff" stroke-opacity="0.7" stroke-width="7" stroke-linecap="round"/>
<line x1="3778.8" y1="1163.5" x2="4050" y2="1519" stroke="#fff" stroke-opacity="0.7" stroke-width="7" stroke-linecap="round"/>
<line x1="4272.8" y1="988.5" x2="4331.3" y2="928" stroke="#fff" stroke-opacity="0.7" stroke-width="7" stroke-linecap="round"/>
<line x1="4274.8" y1="1202.3" x2="4351" y2="1165" stroke="#fff" stroke-opacity="0.7" stroke-width="7" stroke-linecap="round"/>
<line x1="3999.3" y1="3612.5" x2="4023.1" y2="3689.1" stroke="#fff" stroke-opacity="0.7" stroke-width="7" stroke-linecap="round"/>
<line x1="4531.6" y1="3430.3" x2="4534.2" y2="3349.6" stroke="#fff" stroke-opacity="0.7" stroke-width="7" stroke-linecap="round"/>
<line x1="4532.6" y1="3618.2" x2="4536.7" y2="3701" stroke="#fff" stroke-opacity="0.7" stroke-width="7" stroke-linecap="round"/>
<line x1="2803.2" y1="4342.5" x2="2885.5" y2="4334.8" stroke="#fff" stroke-opacity="0.7" stroke-width="7" stroke-linecap="round"/>
</svg></body></html>
